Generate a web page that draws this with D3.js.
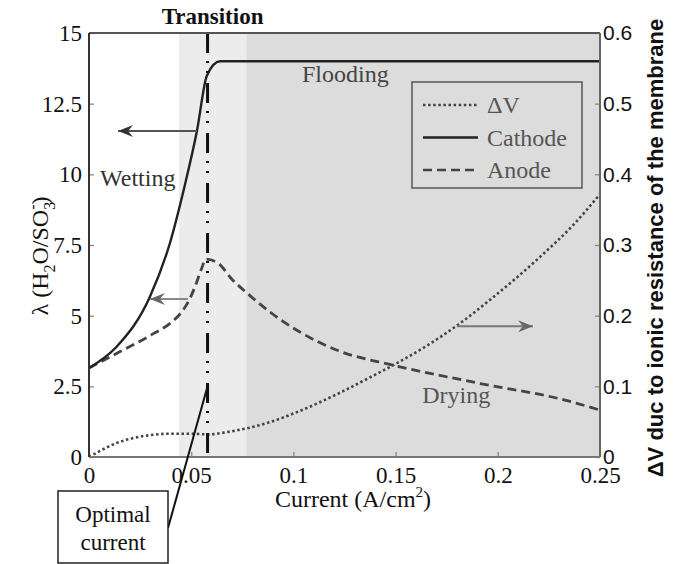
<!DOCTYPE html>
<html>
<head>
<meta charset="utf-8">
<script src="https://cdn.jsdelivr.net/npm/d3@7"></script>
<style>
  body { margin: 0; background: #fff; }
  svg { display: block; }
</style>
</head>
<body>
<svg id="chart" width="678" height="564"></svg>
<script>
// current density (A/cm2) and membrane water content λ
var cathodeX = [0, 0.0135, 0.0298, 0.0396, 0.0465, 0.0528, 0.0577, 0.0641, 0.25];
var cathodeY = [3.15, 3.9, 5.67, 7.57, 9.5, 11.53, 13.5, 14.0, 14.0];

var anodeX = [0, 0.015, 0.03, 0.04, 0.045, 0.049, 0.052, 0.055, 0.0572, 0.0633, 0.0698, 0.0773, 0.09, 0.1032, 0.1228, 0.1487, 0.1913, 0.2319, 0.25];
var anodeY = [3.15, 3.72, 4.3, 4.75, 5.1, 5.55, 6.05, 6.65, 7.0, 6.85, 6.3, 5.8, 5.05, 4.42, 3.74, 3.25, 2.6, 2.03, 1.66];

// ΔV due to ionic resistance (right axis)
var dvX = [0, 0.005, 0.0137, 0.022, 0.030, 0.040, 0.050, 0.058, 0.069, 0.087, 0.103, 0.1228, 0.139, 0.1489, 0.165, 0.18, 0.196, 0.2206, 0.2368, 0.25];
var dvY = [0, 0.008, 0.020, 0.027, 0.031, 0.033, 0.033, 0.032, 0.036, 0.048, 0.065, 0.091, 0.115, 0.13, 0.157, 0.186, 0.222, 0.283, 0.328, 0.372];

var xTicks = [0, 0.05, 0.1, 0.15, 0.2, 0.25];
var leftTicks = [0, 2.5, 5, 7.5, 10, 12.5, 15];
var rightTicks = [0, 0.1, 0.2, 0.3, 0.4, 0.5, 0.6];

// regions: transition band and flooding/drying band
var regions = [
  { from: 0.044, to: 0.077, fill: "#ececec" },
  { from: 0.077, to: 0.25, fill: "#dcdcdc" }
];
var optimalCurrent = 0.058;

var svg = d3.select("#chart");
var width = 678;
var height = 564;
var margin = { left: 89, right: 78, top: 33, bottom: 107 };
var serif = "'Liberation Serif', 'Times New Roman', serif";
var sans = "'Liberation Sans', Arial, sans-serif";

var x = d3.scaleLinear().domain([0, 0.25]).range([margin.left, width - margin.right]);
var y = d3.scaleLinear().domain([0, 15]).range([height - margin.bottom, margin.top]);
var yR = d3.scaleLinear().domain([0, 0.6]).range([height - margin.bottom, margin.top]);

var zip = (xs, ys) => xs.map((v, i) => ({ x: v, y: ys[i] }));
var cathode = zip(cathodeX, cathodeY);
var anode = zip(anodeX, anodeY);
var dv = zip(dvX, dvY);

// shading
svg.append("g")
  .selectAll("rect")
  .data(regions)
  .join("rect")
  .attr("x", d => x(d.from))
  .attr("width", d => x(d.to) - x(d.from))
  .attr("y", margin.top)
  .attr("height", y(0) - y(15))
  .attr("fill", d => d.fill);

// arrow marker
svg.append("defs").selectAll("marker")
  .data([["headDark", "#333"], ["headGray", "#666"]])
  .join("marker")
  .attr("id", d => d[0])
  .attr("markerUnits", "userSpaceOnUse")
  .attr("markerWidth", 16).attr("markerHeight", 14)
  .attr("viewBox", "0 -7 16 14")
  .attr("refX", 15).attr("refY", 0)
  .attr("orient", "auto")
  .append("path")
  .attr("d", "M0,-6 L15,0 L0,6 L5,0 Z")
  .attr("fill", d => d[1]);

var lineL = d3.line().curve(d3.curveMonotoneX).x(d => x(d.x)).y(d => y(d.y));
var lineR = d3.line().curve(d3.curveMonotoneX).x(d => x(d.x)).y(d => yR(d.y));

svg.append("path").datum(dv)
  .attr("d", lineR)
  .attr("fill", "none")
  .attr("stroke", "#444")
  .attr("stroke-width", 2.6)
  .attr("stroke-dasharray", "2.5,2.6");

svg.append("path").datum(anode)
  .attr("d", lineL)
  .attr("fill", "none")
  .attr("stroke", "#444")
  .attr("stroke-width", 2.8)
  .attr("stroke-dasharray", "9,5");

svg.append("path").datum(cathode)
  .attr("d", lineL)
  .attr("fill", "none")
  .attr("stroke", "#222")
  .attr("stroke-width", 2.4);

// optimal current line
svg.append("line")
  .attr("x1", x(optimalCurrent)).attr("x2", x(optimalCurrent))
  .attr("y1", y(15)).attr("y2", y(0))
  .attr("stroke", "#111")
  .attr("stroke-width", 3)
  .attr("stroke-dasharray", "20,8,2,8,2,10");

// axes
var leftAxis = d3.axisLeft(y).tickValues(leftTicks).tickFormat(String)
  .tickSizeInner(-5).tickSizeOuter(0).tickPadding(7);
var rightAxis = d3.axisRight(yR).tickValues(rightTicks).tickFormat(String)
  .tickSizeInner(-5).tickSizeOuter(0).tickPadding(3);
var bottomAxis = d3.axisBottom(x).tickValues(xTicks).tickFormat(String)
  .tickSizeInner(-5).tickSizeOuter(0).tickPadding(10);

function styleAxis(g, family, size) {
  g.attr("font-family", family).attr("font-size", size);
  g.select(".domain").remove();
  g.selectAll(".tick line").attr("stroke", "#888").attr("stroke-width", 1.3);
  g.selectAll(".tick text").attr("fill", "#111");
}

svg.append("g")
  .attr("transform", `translate(${margin.left},0)`)
  .call(leftAxis)
  .call(g => styleAxis(g, serif, 23));

svg.append("g")
  .attr("transform", `translate(${width - margin.right},0)`)
  .call(rightAxis)
  .call(g => styleAxis(g, sans, 21));

svg.append("g")
  .attr("transform", `translate(0,${height - margin.bottom})`)
  .call(bottomAxis)
  .call(g => styleAxis(g, serif, 23));

// frame
var frame = [
  [x(0), y(15), x(0.25), y(15), "#555"],
  [x(0.25), y(15), x(0.25), y(0), "#666"],
  [x(0), y(0), x(0.25), y(0), "#777"],
  [x(0), y(15), x(0), y(0), "#333"]
];
svg.append("g").selectAll("line")
  .data(frame)
  .join("line")
  .attr("x1", d => d[0]).attr("y1", d => d[1])
  .attr("x2", d => d[2]).attr("y2", d => d[3])
  .attr("stroke", d => d[4])
  .attr("stroke-width", 2);

// arrows pointing to the axis each curve belongs to
var arrows = [
  { x1: 0.0528, x2: 0.0142, v: 11.53, scale: y, head: "headDark", color: "#555" },
  { x1: 0.0484, x2: 0.0298, v: 5.59, scale: y, head: "headGray", color: "#888" },
  { x1: 0.18, x2: 0.2172, v: 0.185, scale: yR, head: "headGray", color: "#777" }
];
svg.append("g").selectAll("line")
  .data(arrows)
  .join("line")
  .attr("x1", d => x(d.x1)).attr("x2", d => x(d.x2))
  .attr("y1", d => d.scale(d.v)).attr("y2", d => d.scale(d.v))
  .attr("stroke", d => d.color)
  .attr("stroke-width", 2)
  .attr("marker-end", d => `url(#${d.head})`);

// region labels
var labels = [
  { text: "Wetting", x: 0.0054, v: 9.6, color: "#333" },
  { text: "Flooding", x: 0.1042, v: 13.25, color: "#444" },
  { text: "Drying", x: 0.163, v: 1.9, color: "#555" }
];
svg.append("g").selectAll("text")
  .data(labels)
  .join("text")
  .attr("x", d => x(d.x))
  .attr("y", d => y(d.v))
  .attr("font-family", serif)
  .attr("font-size", 24)
  .attr("fill", d => d.color)
  .text(d => d.text);

svg.append("text")
  .attr("x", x(optimalCurrent) + 5)
  .attr("y", 24)
  .attr("text-anchor", "middle")
  .attr("font-family", serif)
  .attr("font-size", 23)
  .attr("font-weight", "bold")
  .attr("fill", "#111")
  .text("Transition");

// legend
var legendItems = [
  { name: "ΔV", dash: "2.5,2.6", color: "#444" },
  { name: "Cathode", dash: null, color: "#222" },
  { name: "Anode", dash: "9,5", color: "#444" }
];
var legend = svg.append("g").attr("transform", "translate(412,82)");
legend.append("rect")
  .attr("width", 170).attr("height", 106)
  .attr("fill", "none")
  .attr("stroke", "#555")
  .attr("stroke-width", 1.5);
var item = legend.selectAll("g.item")
  .data(legendItems)
  .join("g")
  .attr("class", "item")
  .attr("transform", (d, i) => `translate(0,${23 + i * 32.5})`);
item.append("line")
  .attr("x1", 11).attr("x2", 66)
  .attr("stroke", d => d.color)
  .attr("stroke-width", 2.4)
  .attr("stroke-dasharray", d => d.dash);
item.append("text")
  .attr("x", 75).attr("y", 8)
  .attr("font-family", serif)
  .attr("font-size", 24)
  .attr("fill", "#555")
  .text(d => d.name);

// axis titles
svg.append("text")
  .attr("x", 353)
  .attr("y", 507)
  .attr("text-anchor", "middle")
  .attr("font-family", serif)
  .attr("font-size", 24)
  .attr("fill", "#111")
  .call(t => {
    t.append("tspan").text("Current (A/cm");
    t.append("tspan").attr("font-size", 15).attr("dy", -10).text("2");
    t.append("tspan").attr("dy", 10).text(")");
  });

svg.append("text")
  .attr("transform", "translate(48,256) rotate(-90)")
  .attr("text-anchor", "middle")
  .attr("font-family", serif)
  .attr("font-size", 24)
  .attr("fill", "#111")
  .call(t => {
    t.append("tspan").text("λ (H");
    t.append("tspan").attr("font-size", 16).attr("dy", 7).text("2");
    t.append("tspan").attr("dy", -7).text("O/SO");
    t.append("tspan").attr("font-size", 16).attr("dy", 7).text("3");
    t.append("tspan").attr("font-size", 16).attr("dy", -17).attr("dx", -8).text("-");
    t.append("tspan").attr("dy", 10).text(")");
  });

svg.append("text")
  .attr("transform", "translate(663,248) rotate(-90)")
  .attr("text-anchor", "middle")
  .attr("font-family", sans)
  .attr("font-size", 22)
  .attr("font-weight", "bold")
  .attr("fill", "#111")
  .text("ΔV duc to ionic resistance of the membrane");

// optimal current callout
var callout = svg.append("g");
callout.append("line")
  .attr("x1", 168).attr("y1", 528)
  .attr("x2", x(optimalCurrent)).attr("y2", y(2.5))
  .attr("stroke", "#111")
  .attr("stroke-width", 2);
callout.append("rect")
  .attr("x", 58).attr("y", 491)
  .attr("width", 110).attr("height", 72)
  .attr("fill", "#fff")
  .attr("stroke", "#222")
  .attr("stroke-width", 1.5);
callout.selectAll("text")
  .data(["Optimal", "current"])
  .join("text")
  .attr("x", 113)
  .attr("y", (d, i) => 522 + i * 28)
  .attr("text-anchor", "middle")
  .attr("font-family", serif)
  .attr("font-size", 23)
  .attr("fill", "#111")
  .text(d => d);
</script>
</body>
</html>
